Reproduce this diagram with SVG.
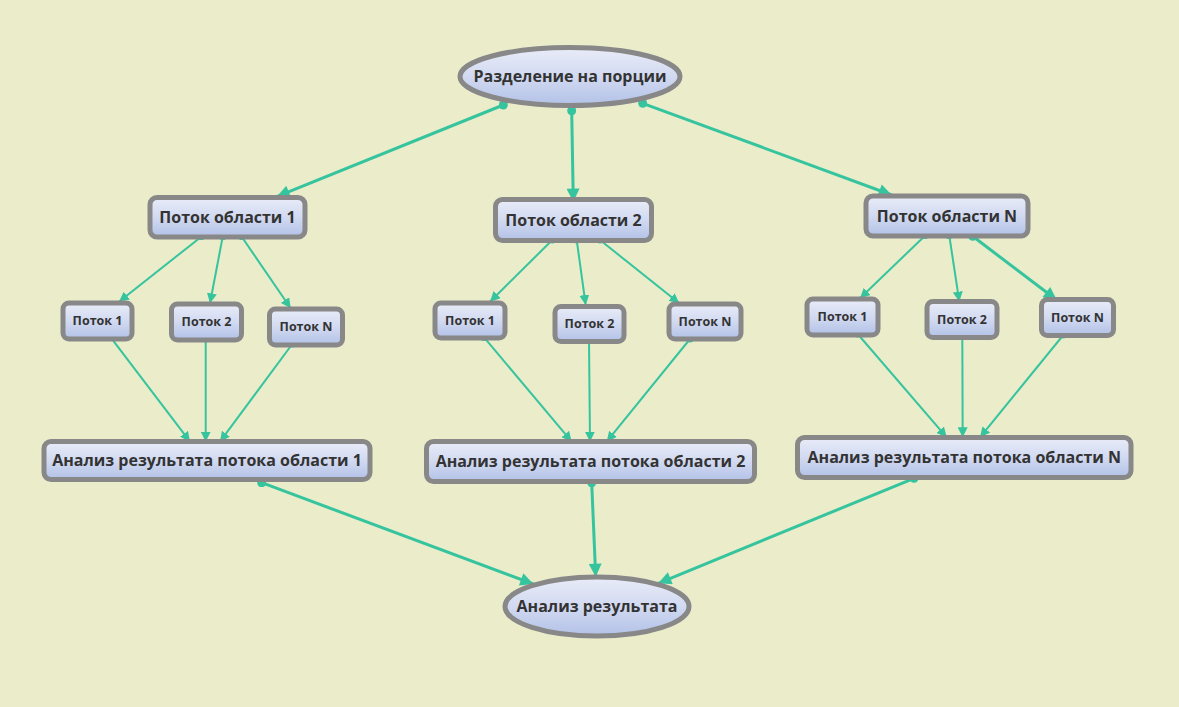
<svg xmlns="http://www.w3.org/2000/svg" width="1179" height="707" viewBox="0 0 1179 707">
<defs>
<linearGradient id="g" x1="0" y1="0" x2="0" y2="1">
<stop offset="0" stop-color="#E9ECF8"/>
<stop offset="0.5" stop-color="#D2DAF1"/>
<stop offset="1" stop-color="#B2C1E7"/>
</linearGradient>
<marker id="a" viewBox="0 0 10 10" refX="10" refY="5" markerWidth="10" markerHeight="10" markerUnits="userSpaceOnUse" orient="auto">
<path d="M0,0 L10,5 L0,10 z" fill="#36C49E"/>
</marker>
<marker id="A" viewBox="0 0 10 10" refX="10" refY="5" markerWidth="14" markerHeight="13" markerUnits="userSpaceOnUse" orient="auto">
<path d="M0,0 L10,5 L0,10 z" fill="#36C49E"/>
</marker>
<marker id="d" viewBox="0 0 10 10" refX="5" refY="5" markerWidth="7" markerHeight="7" markerUnits="userSpaceOnUse">
<circle cx="5" cy="5" r="5" fill="#36C49E"/>
</marker>
<marker id="D" viewBox="0 0 10 10" refX="5" refY="5" markerWidth="9" markerHeight="9" markerUnits="userSpaceOnUse">
<circle cx="5" cy="5" r="5" fill="#36C49E"/>
</marker>
</defs>
<style>
.n{fill:url(#g);stroke:#888888;stroke-width:5}
.t{font-family:"Open Sans","Noto Sans","DejaVu Sans",sans-serif;font-weight:bold;fill:#333333;text-anchor:middle}
.b{font-size:16px}
.s{font-size:12.5px}
.c{fill:none;stroke:#36C49E;stroke-width:2;marker-start:url(#d);marker-end:url(#a)}
.C{fill:none;stroke:#36C49E;stroke-width:3;marker-start:url(#D);marker-end:url(#A)}
</style>
<rect width="1179" height="707" fill="#EBECCA"/>
<g id="connectors">
<path class="C" d="M503.3,105 L276.7,196.7"/>
<path class="C" d="M571.7,110.7 L573.3,201.7"/>
<path class="C" d="M642.7,103.3 L891.7,195"/>
<path class="c" d="M201.3,236.7 L119,301.7"/>
<path class="c" d="M222.7,236.7 L210,303.3"/>
<path class="c" d="M241.7,236.7 L290.7,308.3"/>
<path class="c" d="M552.3,240 L490,301.7"/>
<path class="c" d="M576.7,240 L585.7,305"/>
<path class="c" d="M600,240 L679.3,303.3"/>
<path class="c" d="M925,235.7 L860,298.3"/>
<path class="c" d="M949.3,235.7 L959.3,301.7"/>
<path class="C" d="M972.7,236.3 L1056.7,300"/>
<path class="c" d="M110.7,337.3 L190,441.7"/>
<path class="c" d="M205.7,339 L205.7,441.7"/>
<path class="c" d="M292.3,344 L220,441.7"/>
<path class="c" d="M484.3,337.7 L571.7,441.7"/>
<path class="c" d="M589,340.7 L590,441.7"/>
<path class="c" d="M690,339 L606.7,441.7"/>
<path class="c" d="M857.7,334 L946.7,437.3"/>
<path class="c" d="M962.3,336.7 L962.7,437.3"/>
<path class="c" d="M1063.3,335 L980,437.3"/>
<path class="C" d="M261.7,482.7 L533.3,584"/>
<path class="C" d="M591.7,482.7 L595.7,576.7"/>
<path class="C" d="M914,478.3 L658.3,583.3"/>
</g>
<g id="split">
<ellipse class="n" cx="570" cy="76.5" rx="110" ry="29"/>
<text class="t b" x="570" y="82">Разделение на порции</text>
</g>
<g id="area1">
<rect class="n" x="150" y="197.5" width="155" height="39.5" rx="7"/>
<text class="t b" x="227.5" y="223">Поток области 1</text>
</g>
<g id="area2">
<rect class="n" x="495.5" y="199.5" width="156" height="41" rx="7"/>
<text class="t b" x="573.5" y="225.6">Поток области 2</text>
</g>
<g id="areaN">
<rect class="n" x="866" y="196" width="162" height="40" rx="7"/>
<text class="t b" x="947" y="221.6">Поток области N</text>
</g>
<g id="t1_1">
<rect class="n" x="63" y="303" width="69" height="36" rx="6"/>
<text class="t s" x="97.5" y="325.4">Поток 1</text>
</g>
<g id="t1_2">
<rect class="n" x="171.5" y="304" width="70" height="36" rx="6"/>
<text class="t s" x="206.5" y="326.4">Поток 2</text>
</g>
<g id="t1_N">
<rect class="n" x="269.5" y="309" width="73" height="36" rx="6"/>
<text class="t s" x="306" y="331.4">Поток N</text>
</g>
<g id="t2_1">
<rect class="n" x="435" y="303" width="70" height="35" rx="6"/>
<text class="t s" x="470" y="324.9">Поток 1</text>
</g>
<g id="t2_2">
<rect class="n" x="555" y="306.5" width="69" height="35" rx="6"/>
<text class="t s" x="589.5" y="328.4">Поток 2</text>
</g>
<g id="t2_N">
<rect class="n" x="669" y="304" width="72" height="35" rx="6"/>
<text class="t s" x="705" y="325.9">Поток N</text>
</g>
<g id="tN_1">
<rect class="n" x="807" y="299" width="71" height="36" rx="6"/>
<text class="t s" x="842.5" y="321.4">Поток 1</text>
</g>
<g id="tN_2">
<rect class="n" x="927" y="301.5" width="70" height="36" rx="6"/>
<text class="t s" x="962" y="323.9">Поток 2</text>
</g>
<g id="tN_N">
<rect class="n" x="1041.5" y="299.5" width="72" height="36" rx="6"/>
<text class="t s" x="1077.5" y="321.9">Поток N</text>
</g>
<g id="an1">
<rect class="n" x="44" y="441.5" width="326" height="38" rx="7"/>
<text class="t b" x="207" y="466.2">Анализ результата потока области 1</text>
</g>
<g id="an2">
<rect class="n" x="426.5" y="441.5" width="328" height="40" rx="7"/>
<text class="t b" x="590.5" y="467.2">Анализ результата потока области 2</text>
</g>
<g id="anN">
<rect class="n" x="797.5" y="437.5" width="333.5" height="40" rx="7"/>
<text class="t b" x="964.25" y="463.2">Анализ результата потока области N</text>
</g>
<g id="result">
<ellipse class="n" cx="597" cy="606.5" rx="92" ry="29.5"/>
<text class="t b" x="597" y="612">Анализ результата</text>
</g>
</svg>
